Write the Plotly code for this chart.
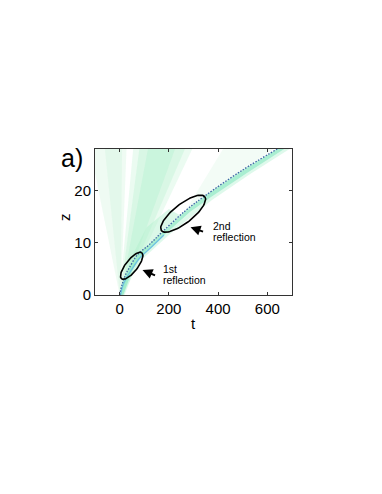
import numpy as np
import plotly.graph_objects as go

# main trajectory (dotted)
path_t = [0, 10, 25, 38, 72, 119, 173, 268, 349, 497, 640]
path_z = [0, 2, 4, 5.1, 7.7, 9.6, 12.1, 16.2, 19.1, 23.9, 28]

# cyan line just right of it near the origin
cyan_t = [4, 12, 28, 48, 80, 125, 180]
cyan_z = [0, 1.6, 3.3, 4.8, 7.0, 9.0, 11.5]

# green band hugging the trajectory (right / lower side)
band_t = [0, 10, 25, 38, 72, 119, 173, 268, 349, 497, 640, 668, 520, 368, 285, 190, 135, 85, 50, 15]
band_z = [0, 2, 4, 5.1, 7.7, 9.6, 12.1, 16.2, 19.1, 23.9, 28, 28, 23.5, 18.7, 15.9, 11.9, 9.4, 7.3, 4.6, 0]
glow_t = [0, 25, 72, 173, 349, 640, 690, 530, 375, 200, 95, 55, 20]
glow_z = [0, 4, 7.7, 12.1, 19.1, 28, 28, 23.2, 18.2, 11.5, 7.0, 4.3, 0]

# diffuse beams leaving the origin
beam_a_t = [0, -120, 28, 5]
beam_a_z = [0, 28, 28, 0]
beam_a_core_t = [1, -60, 10, 4]
beam_a_core_z = [0, 28, 28, 0]
beam_b_t = [0, 55, 295, 14]
beam_b_z = [0, 28, 28, 0]
beam_b_mid_t = [2, 80, 265, 11]
beam_b_mid_z = [0, 28, 28, 0]
beam_b_core_t = [4, 115, 225, 9]
beam_b_core_z = [0, 28, 28, 0]
wedge_t = [6, 50, 120, 175, 245, 200, 110, 45]
wedge_z = [0, 5, 9.5, 12.3, 15.3, 16.5, 13, 7]
haze_t = [268, 420, 625, 497, 349]
haze_z = [16.2, 28, 28, 23.9, 19.1]

# reflection markers: centre (t, z), semi-axes in px, tilt in deg
ell_t = [49, 258]
ell_z = [5.6, 15.6]
ell_a = [16.5, 27.5]
ell_b = [6, 9.5]
ell_ang = [52, 38]

x_range = [-100, 700]
y_range = [0, 28]
W, H = 382, 494
L, R, T, B = 87, 98, 141, 207
sx = (W - L - R) / (x_range[1] - x_range[0])
sy = (H - T - B) / (y_range[1] - y_range[0])

fig = go.Figure()

def poly(t, z, color):
    fig.add_trace(go.Scatter(x=t, y=z, fill="toself", fillcolor=color, mode="lines",
                             line=dict(width=0), hoverinfo="skip", showlegend=False))

poly(beam_a_t, beam_a_z, "rgba(215,246,225,0.4)")
poly(beam_a_core_t, beam_a_core_z, "rgba(205,244,220,0.35)")
poly(beam_b_t, beam_b_z, "rgba(205,245,220,0.4)")
poly(beam_b_mid_t, beam_b_mid_z, "rgba(190,242,212,0.4)")
poly(beam_b_core_t, beam_b_core_z, "rgba(175,240,205,0.35)")
poly(wedge_t, wedge_z, "rgba(175,240,205,0.45)")
poly(haze_t, haze_z, "rgba(215,246,225,0.3)")
poly(glow_t, glow_z, "rgba(190,243,215,0.5)")
poly(band_t, band_z, "rgba(140,232,195,0.65)")

fig.add_trace(go.Scatter(x=cyan_t, y=cyan_z, mode="lines", line_shape="spline",
                         line=dict(color="rgb(110,195,225)", width=1.3),
                         hoverinfo="skip", showlegend=False))
fig.add_trace(go.Scatter(x=path_t, y=path_z, mode="lines", line_shape="spline",
                         line=dict(color="rgb(60,100,165)", width=1.3, dash="1.5px,1.5px"),
                         hoverinfo="skip", showlegend=False))

th = np.linspace(0, 2 * np.pi, 90)
for ct, cz, a, b, ang in zip(ell_t, ell_z, ell_a, ell_b, ell_ang):
    r = np.radians(ang)
    px = a * np.cos(th) * np.cos(r) - b * np.sin(th) * np.sin(r)
    py = a * np.cos(th) * np.sin(r) + b * np.sin(th) * np.cos(r)
    fig.add_trace(go.Scatter(x=ct + px / sx, y=cz + py / sy, mode="lines",
                             line=dict(color="black", width=1.6),
                             hoverinfo="skip", showlegend=False))

font = "Arial, Liberation Sans, sans-serif"
fig.add_annotation(x=93, y=4.8, ax=14, ay=6, showarrow=True, arrowhead=2,
                   arrowsize=1, arrowwidth=2, arrowcolor="black", text="")
fig.add_annotation(x=288, y=13, ax=14, ay=5, showarrow=True, arrowhead=2,
                   arrowsize=1, arrowwidth=2, arrowcolor="black", text="")
fig.add_annotation(x=170, y=4.9, text="1st", showarrow=False, xanchor="left",
                   yanchor="middle", font=dict(family=font, size=10.5, color="black"))
fig.add_annotation(x=168, y=2.8, text="reflection", showarrow=False, xanchor="left",
                   yanchor="middle", font=dict(family=font, size=10.5, color="black"))
fig.add_annotation(x=370, y=13.3, text="2nd", showarrow=False, xanchor="left",
                   yanchor="middle", font=dict(family=font, size=10.5, color="black"))
fig.add_annotation(x=370, y=11.2, text="reflection", showarrow=False, xanchor="left",
                   yanchor="middle", font=dict(family=font, size=10.5, color="black"))

fig.add_annotation(xref="paper", yref="paper", x=0, y=1, xshift=-23, yshift=-9,
                   text="a)", showarrow=False, xanchor="center", yanchor="middle",
                   font=dict(family=font, size=25, color="black"))
fig.add_annotation(xref="paper", yref="paper", x=0.5, y=0, yshift=-28,
                   text="t", showarrow=False, xanchor="center", yanchor="middle",
                   font=dict(family=font, size=15, color="black"))
fig.add_annotation(xref="paper", yref="paper", x=0, y=0.5, xshift=-31, yshift=5,
                   text="z", textangle=-90, showarrow=False, xanchor="center",
                   yanchor="middle", font=dict(family=font, size=15, color="black"))

axis = dict(showgrid=False, zeroline=False, showline=True, linecolor="#333",
            linewidth=1, mirror="ticks", ticks="inside", ticklen=3, tickcolor="#333",
            tickfont=dict(family=font, size=15, color="black"))
fig.update_xaxes(range=x_range, tickvals=[0, 200, 400, 600], **axis)
fig.update_yaxes(range=y_range, tickvals=[0, 10, 20], **axis)

fig.update_layout(width=W, height=H, margin=dict(l=L, r=R, t=T, b=B),
                  paper_bgcolor="white", plot_bgcolor="white", showlegend=False)
fig.write_html("out.html")
